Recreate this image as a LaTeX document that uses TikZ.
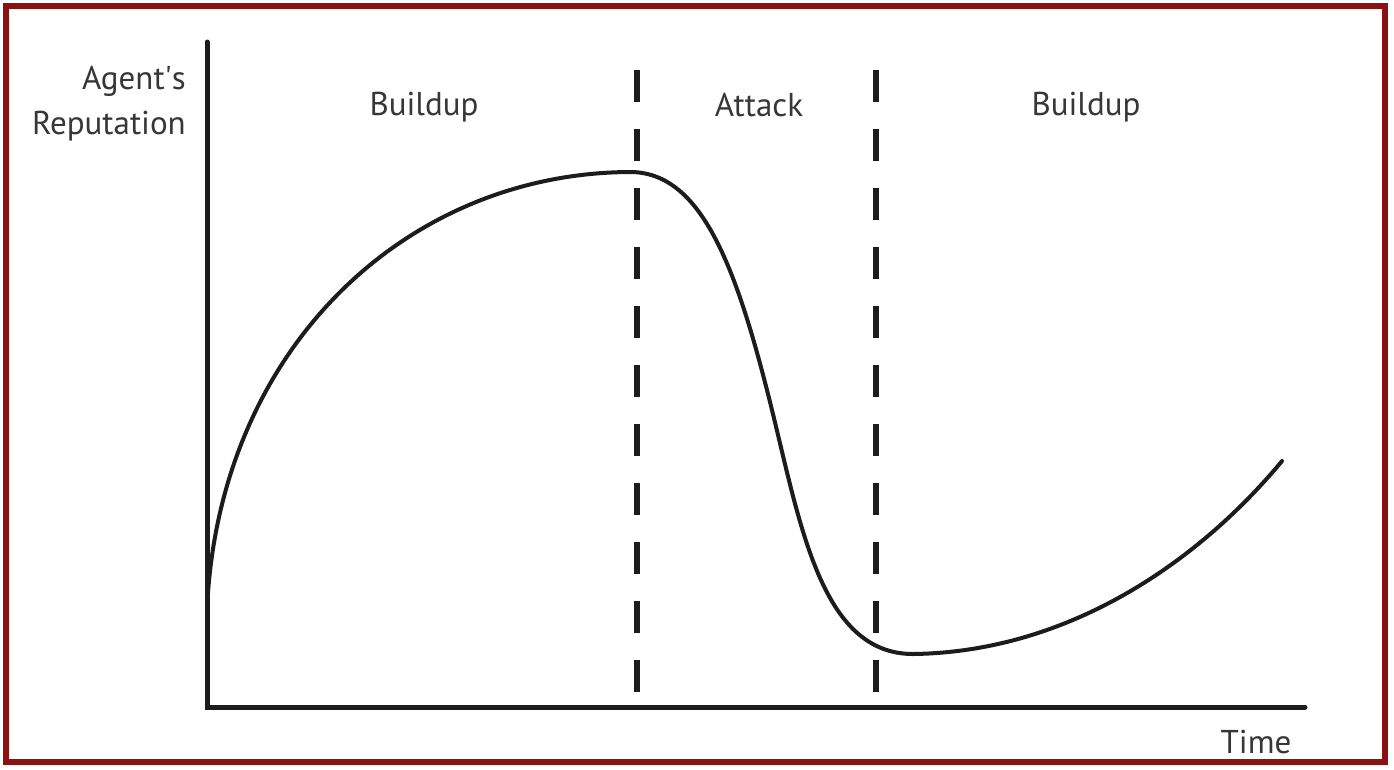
\documentclass[tikz,border=0pt]{standalone}
\usepackage{fontspec}
\setmainfont{PT Sans}
\definecolor{frame}{RGB}{138,18,18}
\definecolor{ink}{RGB}{28,28,28}
\definecolor{txt}{RGB}{55,55,55}
\begin{document}
\begin{tikzpicture}[x=1pt,y=-1pt,
  lbl/.style={text=txt,font=\fontsize{33}{45}\selectfont,inner sep=0pt},
  axis/.style={draw=ink,line width=5pt,line cap=round},
  phase/.style={draw=ink,line width=6pt,dash pattern=on 32pt off 27pt},
  curve/.style={draw=ink,line width=4pt,line cap=round}]
\useasboundingbox (0,0) rectangle (1394,769);
\fill[white] (0,0) rectangle (1394,769);
\draw[frame,line width=6pt] (6,6) rectangle (1385,762);
% axes
\coordinate (ytop) at (207,42);
\coordinate (origin) at (207,707);
\coordinate (xend) at (1305,707);
\draw[axis] (ytop) -- (origin) -- (xend);
% phase separators
\coordinate (d1t) at (637,70); \coordinate (d1b) at (637,695);
\coordinate (d2t) at (876,70); \coordinate (d2b) at (876,695);
\draw[phase] (d1t) -- (d1b);
\draw[phase] (d2t) -- (d2b);
% curve
\coordinate (s) at (207,610);
\coordinate (peak) at (630,172);
\coordinate (infl) at (770,402);
\coordinate (low) at (913,654);
\coordinate (e) at (1282,461);
\draw[curve] (s) .. controls (218,350) and (405,173) .. (peak)
  .. controls (700,172) and (735,262) .. (infl)
  .. controls (800,522) and (820,654) .. (low)
  .. controls (1070,652) and (1200,560) .. (e);
% labels
\node[lbl,align=right,anchor=base east] (ylab) at (186,134) {Agent\textquotesingle s\\Reputation};
\node[lbl,anchor=base] (b1) at (424,115) {Buildup};
\node[lbl,anchor=base] (att) at (759,116) {Attack};
\node[lbl,anchor=base] (b2) at (1086,115) {Buildup};
\node[lbl,anchor=base] (time) at (1256,753) {Time};
\end{tikzpicture}
\end{document}
